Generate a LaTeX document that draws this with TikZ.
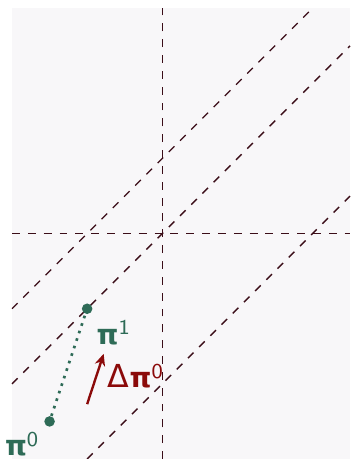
\documentclass[tikz,border=0pt]{standalone}
\usepackage{fontspec}
\newfontfamily\labfont{DejaVu Sans}
\usetikzlibrary{arrows.meta}
\definecolor{bgc}{HTML}{F8F7F9}
\definecolor{guide}{HTML}{3B0D18}
\definecolor{ptc}{HTML}{2E6B57}
\definecolor{arc}{HTML}{8B0A0A}
\newcommand{\mylbl}[2]{{\labfont #1}\raisebox{3.6pt}{\fontsize{8}{9}\selectfont\sffamily #2}}
\begin{document}
\begin{tikzpicture}[
  guideline/.style={guide, dashed, line width=0.5pt},
  ptdot/.style={circle, fill=ptc, inner sep=0pt, minimum size=4pt},
  lab/.style={inner sep=0pt, anchor=base west, font=\fontsize{10.5}{12}\selectfont}
]
\useasboundingbox (-2.16,-3.0) rectangle (2.5,3.11);
\fill[bgc] (-2,-3) rectangle (2.5,3);
% guide lines
\coordinate (vt) at (0,3);
\coordinate (vb) at (0,-3);
\coordinate (hl) at (-2,0);
\coordinate (hr) at (2.5,0);
\coordinate (a1) at (-2,-1);
\coordinate (a2) at (2,3);
\coordinate (b1) at (-2,-2);
\coordinate (b2) at (2.5,2.5);
\coordinate (c1) at (-1,-3);
\coordinate (c2) at (2.5,0.5);
\draw[guideline] (vb) -- (vt);
\draw[guideline] (hl) -- (hr);
\draw[guideline] (a1) -- (a2);
\draw[guideline] (b1) -- (b2);
\draw[guideline] (c1) -- (c2);
% points
\node[ptdot] (p0) at (-1.5,-2.5) {};
\node[ptdot] (p1) at (-1,-1) {};
\draw[ptc, dotted, line width=1pt] (p0) -- (p1);
% arrow
\coordinate (d0) at (-1.0,-2.27);
\coordinate (d1) at (-0.78,-1.6);
\draw[arc, line width=0.9pt, -{Stealth[length=4.5pt, width=4pt]}] (d0) -- (d1);
% labels
\node[lab, text=ptc] (l0) at (-2.1,-2.96) {\mylbl{\bfseries π}{0}};
\node[lab, text=ptc] (l1) at (-0.88,-1.47) {\mylbl{\bfseries π}{1}};
\node[lab, text=arc] (ld) at (-0.73,-2.05) {\mylbl{{\fontsize{12}{13}\selectfont Δ}\bfseries π}{0}};
\end{tikzpicture}
\end{document}
